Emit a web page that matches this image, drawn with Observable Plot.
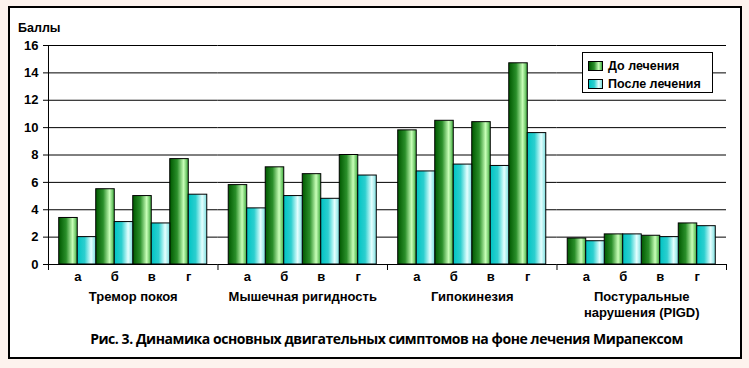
<!DOCTYPE html>
<html><head><meta charset="utf-8">
<script src="https://cdn.jsdelivr.net/npm/d3@7"></script>
<script src="https://cdn.jsdelivr.net/npm/@observablehq/plot@0.6"></script>
<style>
body{margin:0;background:#fdf3ee;}
#page{position:relative;width:749px;height:368px;overflow:hidden;background:#fdf3ee;}
#box{position:absolute;left:8px;top:6px;width:730px;height:349px;border:2px solid #000;background:#fff;}
#chart{position:absolute;left:0;top:0;}
#ylab{position:absolute;left:18px;top:21px;font:bold 12.5px "Liberation Sans",sans-serif;color:#000;}
#legend{position:absolute;left:582px;top:52px;width:129px;height:39px;border:1px solid #000;background:#fff;font:bold 12.5px "Liberation Sans",sans-serif;color:#000;}
.li{position:absolute;left:5px;height:14px;line-height:14px;white-space:nowrap;}
.sw{display:inline-block;width:13px;height:8px;border:1px solid #000;vertical-align:middle;margin-right:5px;position:relative;top:-1px;}
#caption{position:absolute;left:24px;top:329px;width:725px;text-align:center;font:700 14px "Open Sans",sans-serif;letter-spacing:-0.45px;color:#000;white-space:nowrap;}
</style></head>
<body>
<div id="page">
<div id="box"></div>
<div id="chart"></div>
<div id="ylab">Баллы</div>
<div id="legend">
 <div class="li" style="top:6px"><span class="sw" style="background:linear-gradient(to right,#005800,#2a8f2a 40%,#c8ffb8 75%,#3aa83a)"></span>До лечения</div>
 <div class="li" style="top:24px"><span class="sw" style="background:linear-gradient(to right,#00c4c4,#2ccfcf 40%,#e4ffff 75%,#7adede)"></span>После лечения</div>
</div>
<div id="caption">Рис. 3. Динамика основных двигательных симптомов на фоне лечения Мирапексом</div>
</div>
<script>
const groups = ["Тремор покоя", "Мышечная ригидность", "Гипокинезия", "Постуральные\nнарушения (PIGD)"];
const subs = ["а", "б", "в", "г"];
const before = [[3.4, 5.5, 5.0, 7.7], [5.8, 7.1, 6.6, 8.0], [9.8, 10.5, 10.4, 14.7], [1.9, 2.2, 2.1, 3.0]];
const after = [[2.0, 3.1, 3.0, 5.1], [4.1, 5.0, 4.8, 6.5], [6.8, 7.3, 7.2, 9.6], [1.7, 2.2, 2.0, 2.8]];
const yTicks = [0, 2, 4, 6, 8, 10, 12, 14, 16];

const table = [];
groups.forEach((g, gi) => subs.forEach((s, si) => table.push({group: g, sub: s, before: before[gi][si], after: after[gi][si]})));

const halfBar = 18.5;
const edge = 29.25;

const svg = Plot.plot({
  width: 749, height: 320,
  marginLeft: 48, marginRight: 23, marginTop: 45, marginBottom: 56,
  style: {background: "transparent", fontFamily: "Liberation Sans, sans-serif", fontWeight: "bold", fontSize: "13px", color: "#000"},
  fx: {domain: groups, padding: 0, round: false, axis: null, label: null},
  x: {domain: subs, paddingInner: 0, paddingOuter: 0.29, round: false, axis: null, label: null},
  y: {domain: [0, 16], axis: null, label: null},
  marks: [
    Plot.gridY(yTicks.slice(1), {stroke: "#000", strokeOpacity: 1, strokeWidth: 1}),
    Plot.barY(table, {fx: "group", x: "sub", y: "before", fill: "url(#gBefore)", stroke: "#000", strokeWidth: 1, insetRight: halfBar}),
    Plot.barY(table, {fx: "group", x: "sub", y: "after", fill: "url(#gAfter)", stroke: "#000", strokeWidth: 1, insetLeft: halfBar}),
    Plot.ruleY([0], {stroke: "#000", strokeWidth: 1}),
    Plot.ruleX(groups, {fx: d => d, x: () => "а", y1: 0, y2: (d, i) => i === 0 ? 16 : 0, dx: -edge, insetTop: 6, stroke: "#000"}),
    Plot.ruleX(groups.slice(3), {fx: d => d, x: () => "г", y1: 0, y2: 0, dx: edge, insetTop: 6, stroke: "#000"}),
    Plot.axisY({ticks: yTicks, tickSize: 5, tickPadding: 5, label: null, fontSize: 13, fontWeight: "bold"}),
    Plot.axisX({tickSize: 0, tickPadding: 7, label: null, fontSize: 13}),
    Plot.axisFx({anchor: "bottom", tickSize: 0, tickPadding: 25, label: null, fontSize: 13, lineHeight: 1.25})
  ]
});

const defs = d3.select(svg).insert("defs", ":first-child");
function grad(id, stops) {
  const g = defs.append("linearGradient").attr("id", id).attr("x1", 0).attr("x2", 1).attr("y1", 0).attr("y2", 0);
  stops.forEach(([o, c]) => g.append("stop").attr("offset", o).attr("stop-color", c));
}
grad("gBefore", [[0, "#005800"], [0.4, "#2a8f2a"], [0.75, "#c8ffb8"], [1, "#3aa83a"]]);
grad("gAfter", [[0, "#00c4c4"], [0.4, "#2ccfcf"], [0.75, "#e4ffff"], [1, "#7adede"]]);

document.getElementById("chart").appendChild(svg);
</script>
</body></html>
